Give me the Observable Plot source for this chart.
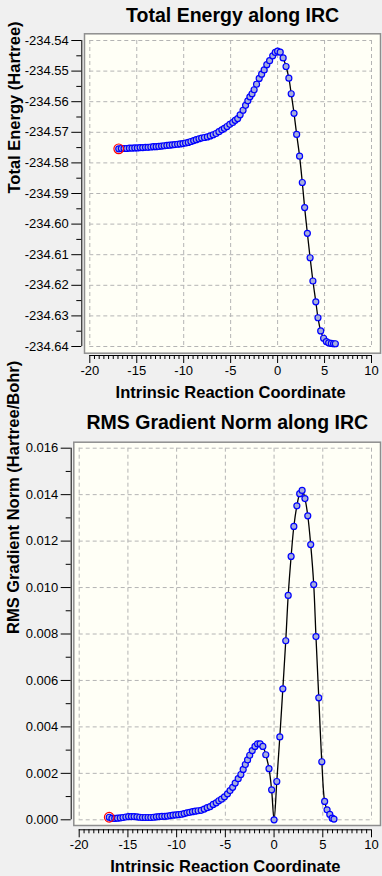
<!DOCTYPE html>
<html>
<head>
<meta charset="utf-8">
<script src="https://cdn.jsdelivr.net/npm/d3@7"></script>
<script src="https://cdn.jsdelivr.net/npm/@observablehq/plot@0.6"></script>
<style>
  html, body { margin: 0; padding: 0; background: #f0f0f0; }
  svg { display: block; }
</style>
</head>
<body>
<div id="chart"></div>
<script>
// Intrinsic reaction coordinate of each IRC point
const irc = [-16.92, -16.64, -16.35, -16.07, -15.78, -15.50, -15.21, -14.93, -14.64, -14.36,
  -14.07, -13.79, -13.50, -13.22, -12.93, -12.65, -12.36, -12.08, -11.79, -11.51,
  -11.22, -10.94, -10.65, -10.37, -10.08, -9.80, -9.51, -9.23, -8.94, -8.66,
  -8.37, -8.09, -7.79, -7.48, -7.17, -6.86, -6.56, -6.25, -5.94, -5.67,
  -5.39, -5.09, -4.78, -4.52, -4.25, -3.99, -3.68, -3.41, -3.17, -2.95,
  -2.72, -2.50, -2.24, -1.96, -1.70, -1.43, -1.15, -0.85, -0.52, -0.25,
  0, 0.28, 0.59, 0.90, 1.20, 1.45, 1.75, 2.03, 2.34, 2.63,
  2.88, 3.17, 3.46, 3.76, 4.07, 4.30, 4.59, 4.90, 5.19, 5.44,
  5.72, 5.96, 6.15];

// Total energy (Hartree)
const energy = [-234.5754, -234.5753, -234.5753, -234.5753, -234.5752, -234.5752, -234.5751, -234.5751, -234.5750, -234.5750,
  -234.5749, -234.5749, -234.5748, -234.5747, -234.5747, -234.5746, -234.5745, -234.5744, -234.5743, -234.5742,
  -234.5741, -234.5740, -234.5739, -234.5738, -234.5737, -234.5735, -234.5733, -234.5730, -234.5727, -234.5724,
  -234.5721, -234.5719, -234.5717, -234.5715, -234.5712, -234.5708, -234.5704, -234.5698, -234.5692, -234.5687,
  -234.5681, -234.5674, -234.5668, -234.5661, -234.5655, -234.5643, -234.5628, -234.5612, -234.5597, -234.5584,
  -234.5574, -234.5561, -234.5543, -234.5524, -234.5510, -234.5496, -234.5479, -234.5466, -234.5450, -234.5439,
  -234.5435, -234.5438, -234.5457, -234.5485, -234.5523, -234.5574, -234.5638, -234.5707, -234.5778, -234.5864,
  -234.5946, -234.6030, -234.6110, -234.6186, -234.6254, -234.6306, -234.6349, -234.6373, -234.6384, -234.6388,
  -234.6390, -234.6391, -234.6391];

// RMS gradient norm (Hartree/Bohr)
const gradient = [0.00011, 0.00006, 0.00006, 0.00007, 0.00008, 0.00010, 0.00012, 0.00014, 0.00014, 0.00014,
  0.00013, 0.00011, 0.00010, 0.00010, 0.00010, 0.00010, 0.00011, 0.00013, 0.00014, 0.00015,
  0.00015, 0.00016, 0.00018, 0.00020, 0.00021, 0.00022, 0.00024, 0.00027, 0.00030, 0.00032,
  0.00035, 0.00037, 0.00039, 0.00041, 0.00046, 0.00052, 0.00057, 0.00066, 0.00073, 0.00082,
  0.00089, 0.00099, 0.00112, 0.00126, 0.00140, 0.00158, 0.00177, 0.00195, 0.00217, 0.00238,
  0.00258, 0.00278, 0.00298, 0.00316, 0.00327, 0.00327, 0.00316, 0.00280, 0.00220, 0.00129,
  0, 0.00165, 0.00357, 0.00564, 0.00771, 0.00966, 0.01134, 0.01263, 0.01352, 0.01404,
  0.01418, 0.01383, 0.01309, 0.01185, 0.01013, 0.00789, 0.00525, 0.00250, 0.00079, 0.00043,
  0.00023, 0.00007, 0.00003];

const xTicks = [-20, -15, -10, -5, 0, 5, 10];
const xMinorTicks = d3.range(-20, 10.001, 0.5).filter(v => Math.abs(v % 5) > 1e-9);
const energyTicks = [-234.54, -234.55, -234.56, -234.57, -234.58, -234.59, -234.60, -234.61, -234.62, -234.63, -234.64];
const energyMinor = [-234.545, -234.555, -234.565, -234.575, -234.585, -234.595, -234.605, -234.615, -234.625, -234.635];
const gradTicks = [0.000, 0.002, 0.004, 0.006, 0.008, 0.010, 0.012, 0.014, 0.016];
const gradMinor = [0.001, 0.003, 0.005, 0.007, 0.009, 0.011, 0.013, 0.015];

const titles = ["Total Energy along IRC", "RMS Gradient Norm along IRC"];
const yLabels = ["Total Energy (Hartree)", "RMS Gradient Norm (Hartree/Bohr)"];
const xLabel = "Intrinsic Reaction Coordinate";

const FONT = "'Liberation Sans', Arial, sans-serif";

function chart({values, yTicksMajor, yTicksMinor, fmt, title, yLabel, width, height,
                mL, mR, mT, mB, frameIn, axisDx, axisDy, titleDy, xLabelDy, yLabelDx}) {
  const data = irc.map((x, i) => ({x, y: values[i]}));
  const yDom = [d3.min(yTicksMajor), d3.max(yTicksMajor)];
  const xDom = [d3.min(xTicks), d3.max(xTicks)];
  return Plot.plot({
    width, height,
    marginLeft: mL, marginRight: mR, marginTop: mT, marginBottom: mB,
    style: {background: "transparent", fontFamily: FONT, fontSize: "13px", color: "#000", overflow: "visible"},
    x: {domain: xDom, axis: null},
    y: {domain: yDom, axis: null},
    marks: [
      Plot.frame({fill: "#fffff6", stroke: "#8e8e8e", strokeWidth: 1.5,
        insetLeft: frameIn[0], insetRight: frameIn[1], insetTop: frameIn[2], insetBottom: frameIn[3]}),
      Plot.gridX(xTicks, {stroke: "#b4b4b4", strokeOpacity: 1, strokeDasharray: "4,3"}),
      Plot.gridY(yTicksMajor, {stroke: "#b4b4b4", strokeOpacity: 1, strokeDasharray: "4,3"}),
      Plot.line(data, {x: "x", y: "y", stroke: "#000", strokeWidth: 1.3, curve: "catmull-rom"}),
      Plot.dot(data, {x: "x", y: "y", r: 3, fill: "#a6aedb", stroke: "#0000ff", strokeWidth: 1.2}),
      Plot.dot(data.slice(0, 1), {x: "x", y: "y", r: 4.8, fill: "none", stroke: "#ff0000", strokeWidth: 1.2}),
      // y axis
      Plot.ruleX([xDom[0]], {y1: yDom[0], y2: yDom[1], dx: axisDx, stroke: "#000"}),
      Plot.axisY(yTicksMajor, {anchor: "left", dx: axisDx, tickSize: 10, tickPadding: 3,
        tickFormat: fmt, label: null, fontSize: 13, fill: "#000"}),
      Plot.axisY(yTicksMinor, {anchor: "left", dx: axisDx, tickSize: 5, text: null, label: null}),
      // x axis
      Plot.ruleY([yDom[0]], {x1: xDom[0], x2: xDom[1], dy: axisDy, stroke: "#000"}),
      Plot.axisX(xTicks, {anchor: "bottom", dy: axisDy, tickSize: 8, tickPadding: 2,
        tickFormat: d => String(d), label: null, fontSize: 13, fill: "#000"}),
      Plot.axisX(xMinorTicks, {anchor: "bottom", dy: axisDy, tickSize: 4, text: null, label: null}),
      // texts
      Plot.text([title], {frameAnchor: "top", dy: titleDy, dx: 2, fontSize: 19.5, fontWeight: "bold",
        lineAnchor: "middle", fill: "#000", fontFamily: FONT}),
      Plot.text([xLabel], {frameAnchor: "bottom", dy: xLabelDy, fontSize: 16.5, fontWeight: "bold",
        lineAnchor: "middle", fill: "#000", fontFamily: FONT}),
      Plot.text([yLabel], {frameAnchor: "left", dx: yLabelDx, rotate: -90, fontSize: 16.5, fontWeight: "bold",
        lineAnchor: "middle", fill: "#000", fontFamily: FONT})
    ]
  });
}

const energyChart = chart({
  values: energy, yTicksMajor: energyTicks, yTicksMinor: energyMinor, fmt: d => d.toFixed(2),
  title: titles[0], yLabel: yLabels[0], width: 382, height: 400,
  mL: 89.3, mR: 11, mT: 40, mB: 54,
  frameIn: [-5.3, -9, -6.7, -6.7], axisDx: -8, axisDy: 9,
  titleDy: -25, xLabelDy: 46.7, yLabelDx: -75.5
});
const gradientChart = chart({
  values: gradient, yTicksMajor: gradTicks, yTicksMinor: gradMinor, fmt: d => d.toFixed(3),
  title: titles[1], yLabel: yLabels[1], width: 382, height: 476,
  mL: 78.7, mR: 11, mT: 47.7, mB: 56.7,
  frameIn: [-5.4, -9, -6, -5.7], axisDx: -8, axisDy: 10,
  titleDy: -25.5, xLabelDy: 47.4, yLabelDx: -65
});
document.getElementById("chart").append(energyChart, gradientChart);
</script>
</body>
</html>
